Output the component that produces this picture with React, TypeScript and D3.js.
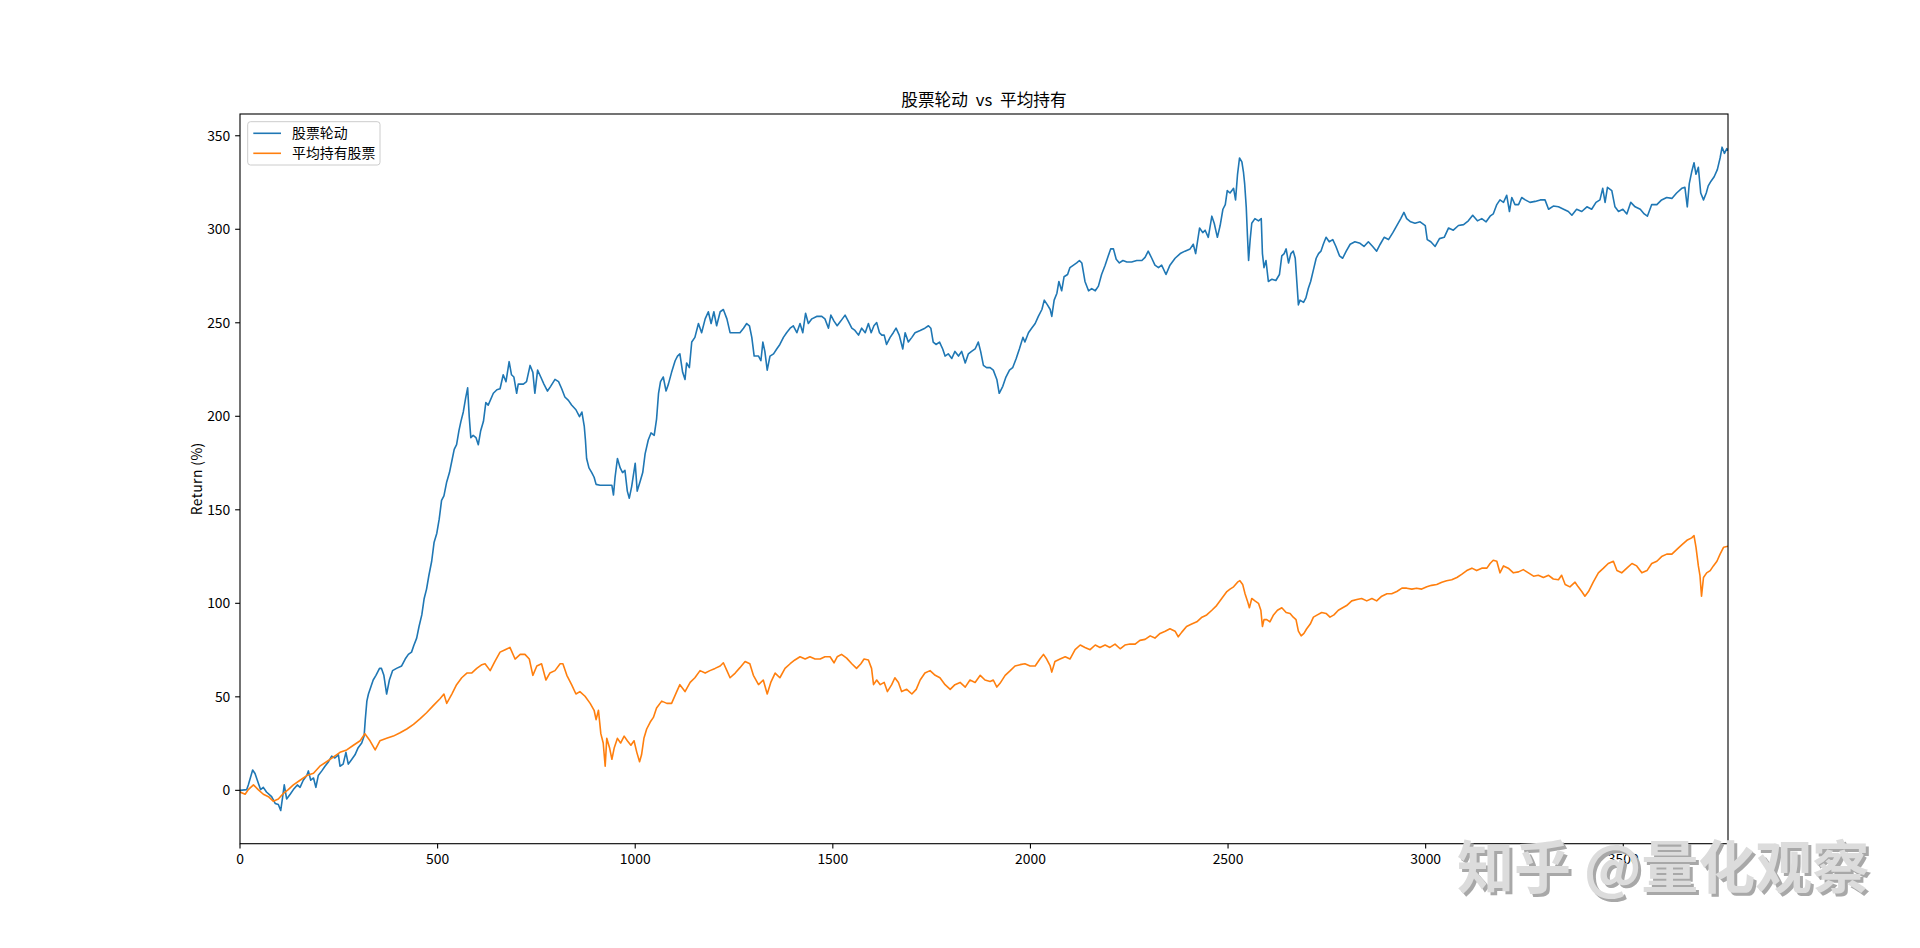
import React from "react";
import * as d3 from "d3";

// ---- data (x = trading-day index, y = return %) ----
const rotationSeries: [number, number][] = [
  [0,0],[17,0.4],[21,2.9],[32,10.9],[38,9],[46,4],[52,0.4],[59,1.6],[67,-0.9],[80,-3.4],[89,-7],[97,-7.6],[103,-10.8],[108,-3.4],[112,2.9],[118,-4.6],[127,-2.1],[135,0.4],[145,2.9],[152,1.6],[160,5.4],[169,7.9],[173,10.4],[179,5.4],[186,6.6],[192,1.6],[198,7.9],[207,10.4],[215,12.9],[224,15.3],[232,18.3],[240,17.3],[249,19],[253,12.9],[261,14],[268,20.3],[274,14],[283,16.6],[291,19],[299,22.8],[308,25.3],[314,29],[317,37.8],[321,47.7],[325,51.5],[331,55.2],[337,59],[344,61.5],[353,65.2],[358,65.2],[364,61.5],[371,51.5],[378,59],[386,64],[396,65.2],[409,66.5],[418,70.2],[426,72.7],[434,73.9],[440,77.6],[447,81.4],[453,87.6],[460,93.8],[466,102.6],[472,107.6],[478,115],[485,122.5],[491,132.5],[498,137.5],[504,145],[510,155],[516,157.4],[523,164.9],[530,169.9],[536,176.1],[542,182.3],[548,184.8],[554,192.3],[559,197.3],[565,202.3],[571,209.8],[576,215.2],[580,199.8],[584,188.6],[590,189.8],[597,188.6],[603,184.8],[609,192.3],[616,197.3],[622,207.3],[628,206],
  [641,212.3],[650,214.2],[658,214.7],[666,222.2],[673,218.5],[681,229.2],[687,222.2],[693,221],[700,212.3],[704,217.2],[717,217.2],[725,218.5],[734,227.2],[741,223.5],[746,212.3],[753,224.7],[761,221],[769,217.2],[778,213.5],[786,216],[797,219.7],[806,218.5],[814,214.7],[822,210.3],[831,208.5],[839,206],[850,203.5],[859,199.8],[865,202.3],[871,194.8],[874,187.3],[877,177.4],[883,172.4],[890,169.9],[896,167.4],[901,163.6],[911,163.1],[941,163.1],[945,157.9],[949,167.4],[955,177.4],[962,172.4],[968,169.9],[974,171.1],[980,160],[985,156.2],[991,162.4],[1000,174.9],[1005,160],[1012,164.9],[1019,169.9],[1025,179.9],[1033,187.3],[1040,191.1],[1048,189.8],[1054,198.5],[1059,212.3],[1064,218.5],[1071,221],[1078,213.5],[1084,217.2],[1092,223.5],[1101,229.7],[1107,232.2],[1113,233.4],[1120,223.5],[1126,219.7],[1130,228.5],[1137,226],[1143,239.7],[1151,242.2],[1160,249.6],[1168,244.7],[1177,252.1],[1185,255.9],[1192,249.6],[1199,255.9],[1206,248.4],[1215,255.9],[1223,257.1],[1232,252.1],[1240,244.7],[1253,244.7],
  [1265,244.7],[1274,247.1],[1282,249.6],[1289,248.4],[1295,242.2],[1301,232.2],[1312,232.2],[1318,229.7],[1323,239.7],[1328,234.7],[1334,224.7],[1341,232.2],[1350,233.4],[1358,236],[1366,238.4],[1375,242.2],[1383,244.7],[1392,247.1],[1400,248.4],[1409,244.7],[1417,249.6],[1424,244.7],[1431,255.1],[1438,249.6],[1447,252.1],[1459,253.4],[1472,253.4],[1480,252.1],[1489,247.1],[1495,254.1],[1503,250.9],[1511,248.4],[1520,250.9],[1531,254.1],[1539,250.9],[1548,247.1],[1556,245.9],[1565,243.4],[1573,247.1],[1582,244.7],[1590,249.6],[1597,244.7],[1604,248.4],[1611,250.1],[1618,244.7],[1624,243.4],[1630,243.4],[1636,238.4],[1645,242.2],[1653,244.7],[1660,247.1],[1668,243.4],[1677,236],[1683,244.7],[1691,239.7],[1700,242.2],[1708,244.7],[1721,245.9],[1733,247.1],[1742,248.4],[1748,247.1],[1754,239.7],[1761,238.4],[1770,239.7],[1778,236],[1784,232.2],[1792,233.4],[1801,230.9],[1809,234.7],[1818,232.2],[1826,234.7],[1835,228.5],[1843,233.4],[1851,234.7],[1860,236],[1868,239.7],[1874,234.7],[1881,227.2],[1889,226],[1898,226],
  [1906,224.7],[1915,219.7],[1921,212.3],[1930,216],[1938,221],[1947,224.7],[1955,226],[1964,230.9],[1972,236],[1981,242.2],[1986,239.7],[1995,244.7],[2003,247.1],[2012,249.6],[2020,253.4],[2029,257.1],[2035,262.1],[2043,259.6],[2050,257.1],[2054,253.4],[2060,262.1],[2067,265.8],[2072,272.1],[2079,267.1],[2085,274.6],[2094,275.8],[2100,279.5],[2109,280.8],[2117,282],[2124,283.3],[2130,282],[2138,272.1],[2147,267.1],[2155,268.3],[2164,267.1],[2172,269.6],[2180,275.8],[2189,280.8],[2197,285.8],[2203,289.5],[2210,289.5],[2217,284],[2225,282],[2234,283.3],[2244,282.5],[2256,282.5],[2269,283.3],[2282,283.3],[2290,285],[2298,288.3],[2307,284.5],[2315,280.8],[2324,279.5],[2332,280.8],[2343,275.8],[2353,280.8],[2366,284.5],[2379,287],[2391,288.3],[2404,289.5],[2412,292],[2418,287],[2428,300.7],[2436,298.2],[2442,299.5],[2450,295.7],[2459,307],[2465,303.2],[2473,295.7],[2480,302],[2487,310.7],[2493,313.2],[2498,320.7],[2505,319.4],[2514,321.9],[2519,315.7],[2524,329.4],[2529,338.1],
  [2535,336],[2539,330.6],[2542,324.4],[2546,312],[2549,297],[2552,283.3],[2556,294.5],[2560,303.2],[2568,305.7],[2577,304.5],[2584,305.7],[2587,287],[2591,279.5],[2596,283.3],[2602,272.1],[2611,273.3],[2621,272.6],[2630,275.8],[2636,285.8],[2642,287],[2647,289.5],[2653,282],[2659,287],[2665,288.3],[2670,284.5],[2674,272.1],[2678,259.6],[2682,262.1],[2691,260.9],[2697,263.3],[2703,268.3],[2709,272.1],[2716,278.3],[2723,284.5],[2729,287],[2735,288.3],[2741,292],[2748,295.7],[2756,293.3],[2765,294.5],[2773,290.8],[2782,285.8],[2790,284.5],[2799,288.3],[2809,292],[2821,293.3],[2834,292.5],[2844,290.8],[2855,293.3],[2866,290.8],[2876,288.3],[2885,292],[2895,295.7],[2906,294.5],[2917,298.2],[2927,302],[2937,305.7],[2945,309],[2952,305.7],[2962,304],[2973,303.2],[2986,304],[2999,302],[3004,294.5],[3013,293.3],[3024,290.8],[3035,295],[3047,295.7],[3058,300.7],[3070,299.5],[3083,302],[3096,302.5],[3108,304.5],[3119,307.5],[3131,304.5],[3142,305.7],[3153,304],[3163,307],
  [3171,308.2],[3180,313.2],[3188,315.7],[3197,314.4],[3205,318.2],[3212,309.5],[3218,317],[3226,313.2],[3235,313.2],[3243,317],[3252,315.7],[3264,314.4],[3277,314.9],[3290,315.7],[3302,315.7],[3311,310.7],[3323,312.4],[3336,312],[3349,310.7],[3361,309.5],[3370,307.5],[3382,310.7],[3395,309.5],[3408,312],[3420,310.7],[3431,314.4],[3441,315.7],[3448,321.9],[3454,314.4],[3460,322.4],[3471,320.7],[3479,312],[3488,309.5],[3499,310.7],[3509,308.2],[3519,314.4],[3530,312],[3543,310.7],[3553,308.2],[3561,307],[3572,313.2],[3585,313.2],[3597,315.7],[3610,317],[3623,316.5],[3635,319.4],[3648,321.9],[3656,322.4],[3662,312],[3667,324.4],[3673,330.6],[3679,335.6],[3684,329.4],[3690,333.1],[3696,319.4],[3703,315.7],[3710,319.4],[3715,323.2],[3722,325.7],[3730,328.1],[3738,331.9],[3745,338.1],[3750,343.9],[3756,340.6],[3762,343.1],[3765,342.4]
];

const equalHoldSeries: [number, number][] = [
  [0,-0.9],[13,-2.1],[21,0.4],[34,2.9],[46,0.4],[59,-2.1],[72,-3.4],[84,-5.8],[97,-4.6],[110,-1.6],[122,0.4],[135,2.9],[152,5.4],[169,7.9],[186,9.1],[202,12.9],[219,15.3],[236,17.8],[253,20.3],[270,21.6],[287,24.1],[304,26.5],[316,30.3],[329,26.5],[342,21.6],[354,26.5],[371,27.8],[388,29],[405,30.8],[422,32.8],[439,35.3],[456,38.3],[472,41.5],[489,45.3],[506,49],[516,51.5],[523,46.5],[536,51.5],[548,56.5],[561,60.2],[574,62.7],[586,62.7],[599,65.2],[612,67.2],[620,67.7],[633,64],
  [645,69],[658,73.9],[671,75.2],[683,76.4],[696,70.2],[709,72.7],[721,72.7],[732,70.2],[741,61.5],[751,66.5],[763,67.7],[774,59],[784,62.7],[797,64],[810,67.7],[817,67.7],[827,61.5],[839,56.5],[850,51.5],[860,52.8],[873,50.3],[886,46.5],[896,42.8],[901,37.8],[907,42.8],[913,30.3],[919,25.3],[924,12.9],[928,27.8],[935,22.8],[941,16.6],[947,22.8],[955,27.8],[963,25.3],[972,29],[980,26.5],[989,24.1],[997,26.5],[1004,20.3],[1011,15.3],[1016,19],[1022,27.8],[1029,32.8],[1038,36.5],[1046,39],[1054,44],[1067,47.7],[1080,46.5],[1092,46.5],[1105,52.8],[1113,56.5],[1126,52.8],[1139,57.7],[1151,60.2],[1164,64],[1177,62.7],[1189,64],[1202,65.2],[1215,66.5],[1223,68.2],[1232,64],[1240,60.2],[1253,62.7],[1265,65.6],
  [1278,68.9],[1290,67.7],[1299,61.5],[1312,56.5],[1324,59],[1334,51.5],[1343,57.7],[1354,62.7],[1366,60.2],[1379,65.2],[1392,67.7],[1404,69.7],[1417,71.4],[1430,70.2],[1442,71.4],[1455,70.2],[1468,70.2],[1480,71.4],[1493,71.4],[1503,68.2],[1511,71.4],[1522,72.7],[1535,70.7],[1548,67.7],[1560,65.2],[1571,67.7],[1579,70.2],[1590,69.7],[1598,65.2],[1603,56.5],[1611,59],[1620,56.5],[1630,57.7],[1638,52.8],[1649,56.5],[1657,60.2],[1666,57.7],[1674,52.8],[1687,54],[1700,51.5],[1711,54],[1721,59],[1733,62.7],[1746,64],[1759,61.5],[1771,60.2],[1784,56.5],[1797,54],[1809,56.5],[1822,57.7],[1835,55.2],[1847,59],[1860,57.7],[1873,61.5],[1885,59],[1898,58.2],
  [1906,59],[1915,55.2],[1923,57.2],[1936,61.5],[1949,64],[1961,66.5],[1974,67.2],[1986,67.7],[1999,66.5],[2012,66.5],[2024,70.2],[2033,72.7],[2041,70.2],[2050,66.5],[2054,63.2],[2062,68.9],[2075,70.2],[2088,71.4],[2100,70.2],[2113,75.2],[2126,77.7],[2138,76.4],[2151,75.2],[2164,77.7],[2176,76.4],[2189,77.7],[2201,76.4],[2214,78.2],[2227,75.7],[2239,77.7],[2252,78.2],[2265,78.2],[2277,80.2],[2290,80.7],[2303,82.6],[2315,81.4],[2328,83.9],[2341,85.1],[2353,86.4],[2366,85.1],[2374,82.1],[2383,84.6],[2395,87.6],[2408,88.9],[2421,90.1],[2434,92.6],[2446,93.8],[2459,96.3],[2471,98.8],[2484,102.6],[2497,106.3],[2505,107.6],[2514,108.8],[2524,111.3],[2530,112.1],
  [2537,110.1],[2543,105.1],[2549,101.3],[2554,97.6],[2560,102.6],[2568,101.3],[2577,100],[2583,96.3],[2587,87.6],[2591,91.3],[2598,91.3],[2606,90.1],[2615,93.8],[2625,96.3],[2636,97.6],[2647,95.1],[2657,94.6],[2665,92.6],[2672,91.3],[2678,85.1],[2685,82.6],[2692,83.9],[2699,86.4],[2708,88.9],[2716,92.6],[2726,93.8],[2737,95.1],[2748,94.6],[2758,92.6],[2768,93.8],[2779,96.3],[2790,97.6],[2800,98.8],[2813,101.3],[2826,102],[2838,102.6],[2851,101.3],[2864,102.6],[2876,101.3],[2889,103.8],[2902,105.1],[2914,105.1],[2927,106.3],[2940,108.1],[2952,108.1],[2965,107.6],[2977,108.1],[2990,107.6],[3003,108.8],[3015,109.6],[3028,110.1],[3041,111.3],[3053,112.1],[3066,112.6],[3079,113.8],[3091,115.5],[3104,117.5],[3117,118.8],[3129,117.5],[3142,118.8],[3155,118.8],[3163,121.3],
  [3171,123],[3180,122.5],[3188,116.3],[3197,120],[3209,118.8],[3222,116.3],[3235,116.8],[3247,118],[3260,116.3],[3273,114.5],[3285,115],[3298,113.8],[3311,115],[3323,113],[3336,112.6],[3344,115],[3353,110.1],[3365,108.8],[3378,111.3],[3386,108.8],[3395,106.3],[3403,103.8],[3412,106.3],[3424,111.3],[3437,116.3],[3450,118.8],[3462,121.3],[3475,122.5],[3484,117.5],[3496,116.3],[3509,118.8],[3522,121.3],[3534,120],[3547,116.3],[3560,117.5],[3572,121.3],[3585,122.5],[3597,125],[3610,126.3],[3623,126.3],[3635,128.7],[3648,131.2],[3661,133.7],[3673,135],[3679,136.2],[3684,130],[3690,120],[3694,115],[3698,103.8],[3703,113.8],[3711,116.3],[3720,117.5],[3728,120],[3737,122.5],[3745,126.3],[3754,130],[3765,130.5]
];

const seriesNames = ["股票轮动", "平均持有股票"];
const seriesColors = ["#1f77b4", "#ff7f0e"];
const xTicks = [0, 500, 1000, 1500, 2000, 2500, 3000, 3500];
const yTicks = [0, 50, 100, 150, 200, 250, 300, 350];
const titleText = "股票轮动 vs 平均持有";
const yLabelText = "Return (%)";
const watermarkText = "知乎 @量化观察";

const W = 1920;
const H = 948;
const L = 240, R = 1728, T = 114, B = 843.7;
const FONT = "SimHei, 'Noto Sans CJK SC', 'DejaVu Sans', sans-serif";
const FS = 13.9;

export default function App() {
  const all = [...rotationSeries, ...equalHoldSeries].map((d) => d[1]);
  const yMin = d3.min(all) as number;
  const yMax = d3.max(all) as number;
  const pad = (yMax - yMin) * 0.05;
  const xMax = d3.max(rotationSeries, (d) => d[0]) as number;

  const x = d3.scaleLinear().domain([0, xMax]).range([L, R]);
  const y = d3.scaleLinear().domain([yMin - pad, yMax + pad]).range([B, T]);
  const line = d3
    .line<[number, number]>()
    .x((d) => x(d[0]))
    .y((d) => y(d[1]));

  const series = [rotationSeries, equalHoldSeries];
  const tickLen = 4.86;

  const legX = 247.7, legY = 121.7, legW = 132.3, legH = 43.3;
  const rowY = [133.3, 153.3];

  return (
    <svg
      width={W}
      height={H}
      style={{ position: "absolute", left: 0, top: 0, background: "#fff" }}
      fontFamily={FONT}
    >
      <rect x={0} y={0} width={W} height={H} fill="#fff" />
      <defs>
        <clipPath id="plotClip">
          <rect x={L} y={T} width={R - L} height={B - T} />
        </clipPath>
      </defs>

      <g clipPath="url(#plotClip)">
        {series.map((s, i) => (
          <path
            key={i}
            d={line(s) || ""}
            fill="none"
            stroke={seriesColors[i]}
            strokeWidth={1.6}
            strokeLinejoin="round"
            strokeLinecap="square"
          />
        ))}
      </g>

      {/* spines */}
      <rect x={L} y={T} width={R - L} height={B - T} fill="none" stroke="#000" strokeWidth={1.1} />

      {/* x ticks */}
      {xTicks.map((t) => (
        <g key={"x" + t}>
          <line x1={x(t)} x2={x(t)} y1={B} y2={B + tickLen} stroke="#000" strokeWidth={1.1} />
          <text x={x(t)} y={B + 20.5} fontSize={FS} textAnchor="middle" fill="#000">
            {t}
          </text>
        </g>
      ))}

      {/* y ticks */}
      {yTicks.map((t) => (
        <g key={"y" + t}>
          <line x1={L - tickLen} x2={L} y1={y(t)} y2={y(t)} stroke="#000" strokeWidth={1.1} />
          <text x={L - 9.7} y={y(t) + 5} fontSize={FS} textAnchor="end" fill="#000">
            {t}
          </text>
        </g>
      ))}

      {/* y label */}
      <text
        transform={`translate(${202},${(T + B) / 2}) rotate(-90)`}
        fontSize={FS}
        textAnchor="middle"
        fill="#000"
        letterSpacing={0.4}
      >
        {yLabelText}
      </text>

      {/* title */}
      <text x={(L + R) / 2} y={106} fontSize={16.7} textAnchor="middle" fill="#000" wordSpacing={4}>
        {titleText}
      </text>

      {/* legend */}
      <rect x={legX} y={legY} width={legW} height={legH} rx={2.8} fill="#fff" fillOpacity={0.8} stroke="#cccccc" strokeWidth={1} />
      {seriesNames.map((n, i) => (
        <g key={n}>
          <line x1={253.3} x2={281} y1={rowY[i]} y2={rowY[i]} stroke={seriesColors[i]} strokeWidth={1.6} />
          <text x={292} y={rowY[i] + 5} fontSize={FS} fill="#000">
            {n}
          </text>
        </g>
      ))}

      {/* watermark */}
      <text x={1460} y={891} fontSize={57} fontWeight={700} fill="#a8a8a8" fontFamily="'Noto Sans CJK SC', sans-serif">
        {watermarkText}
      </text>
      <text x={1457} y={888} fontSize={57} fontWeight={700} fill="#dcdcdc" fontFamily="'Noto Sans CJK SC', sans-serif">
        {watermarkText}
      </text>
    </svg>
  );
}
